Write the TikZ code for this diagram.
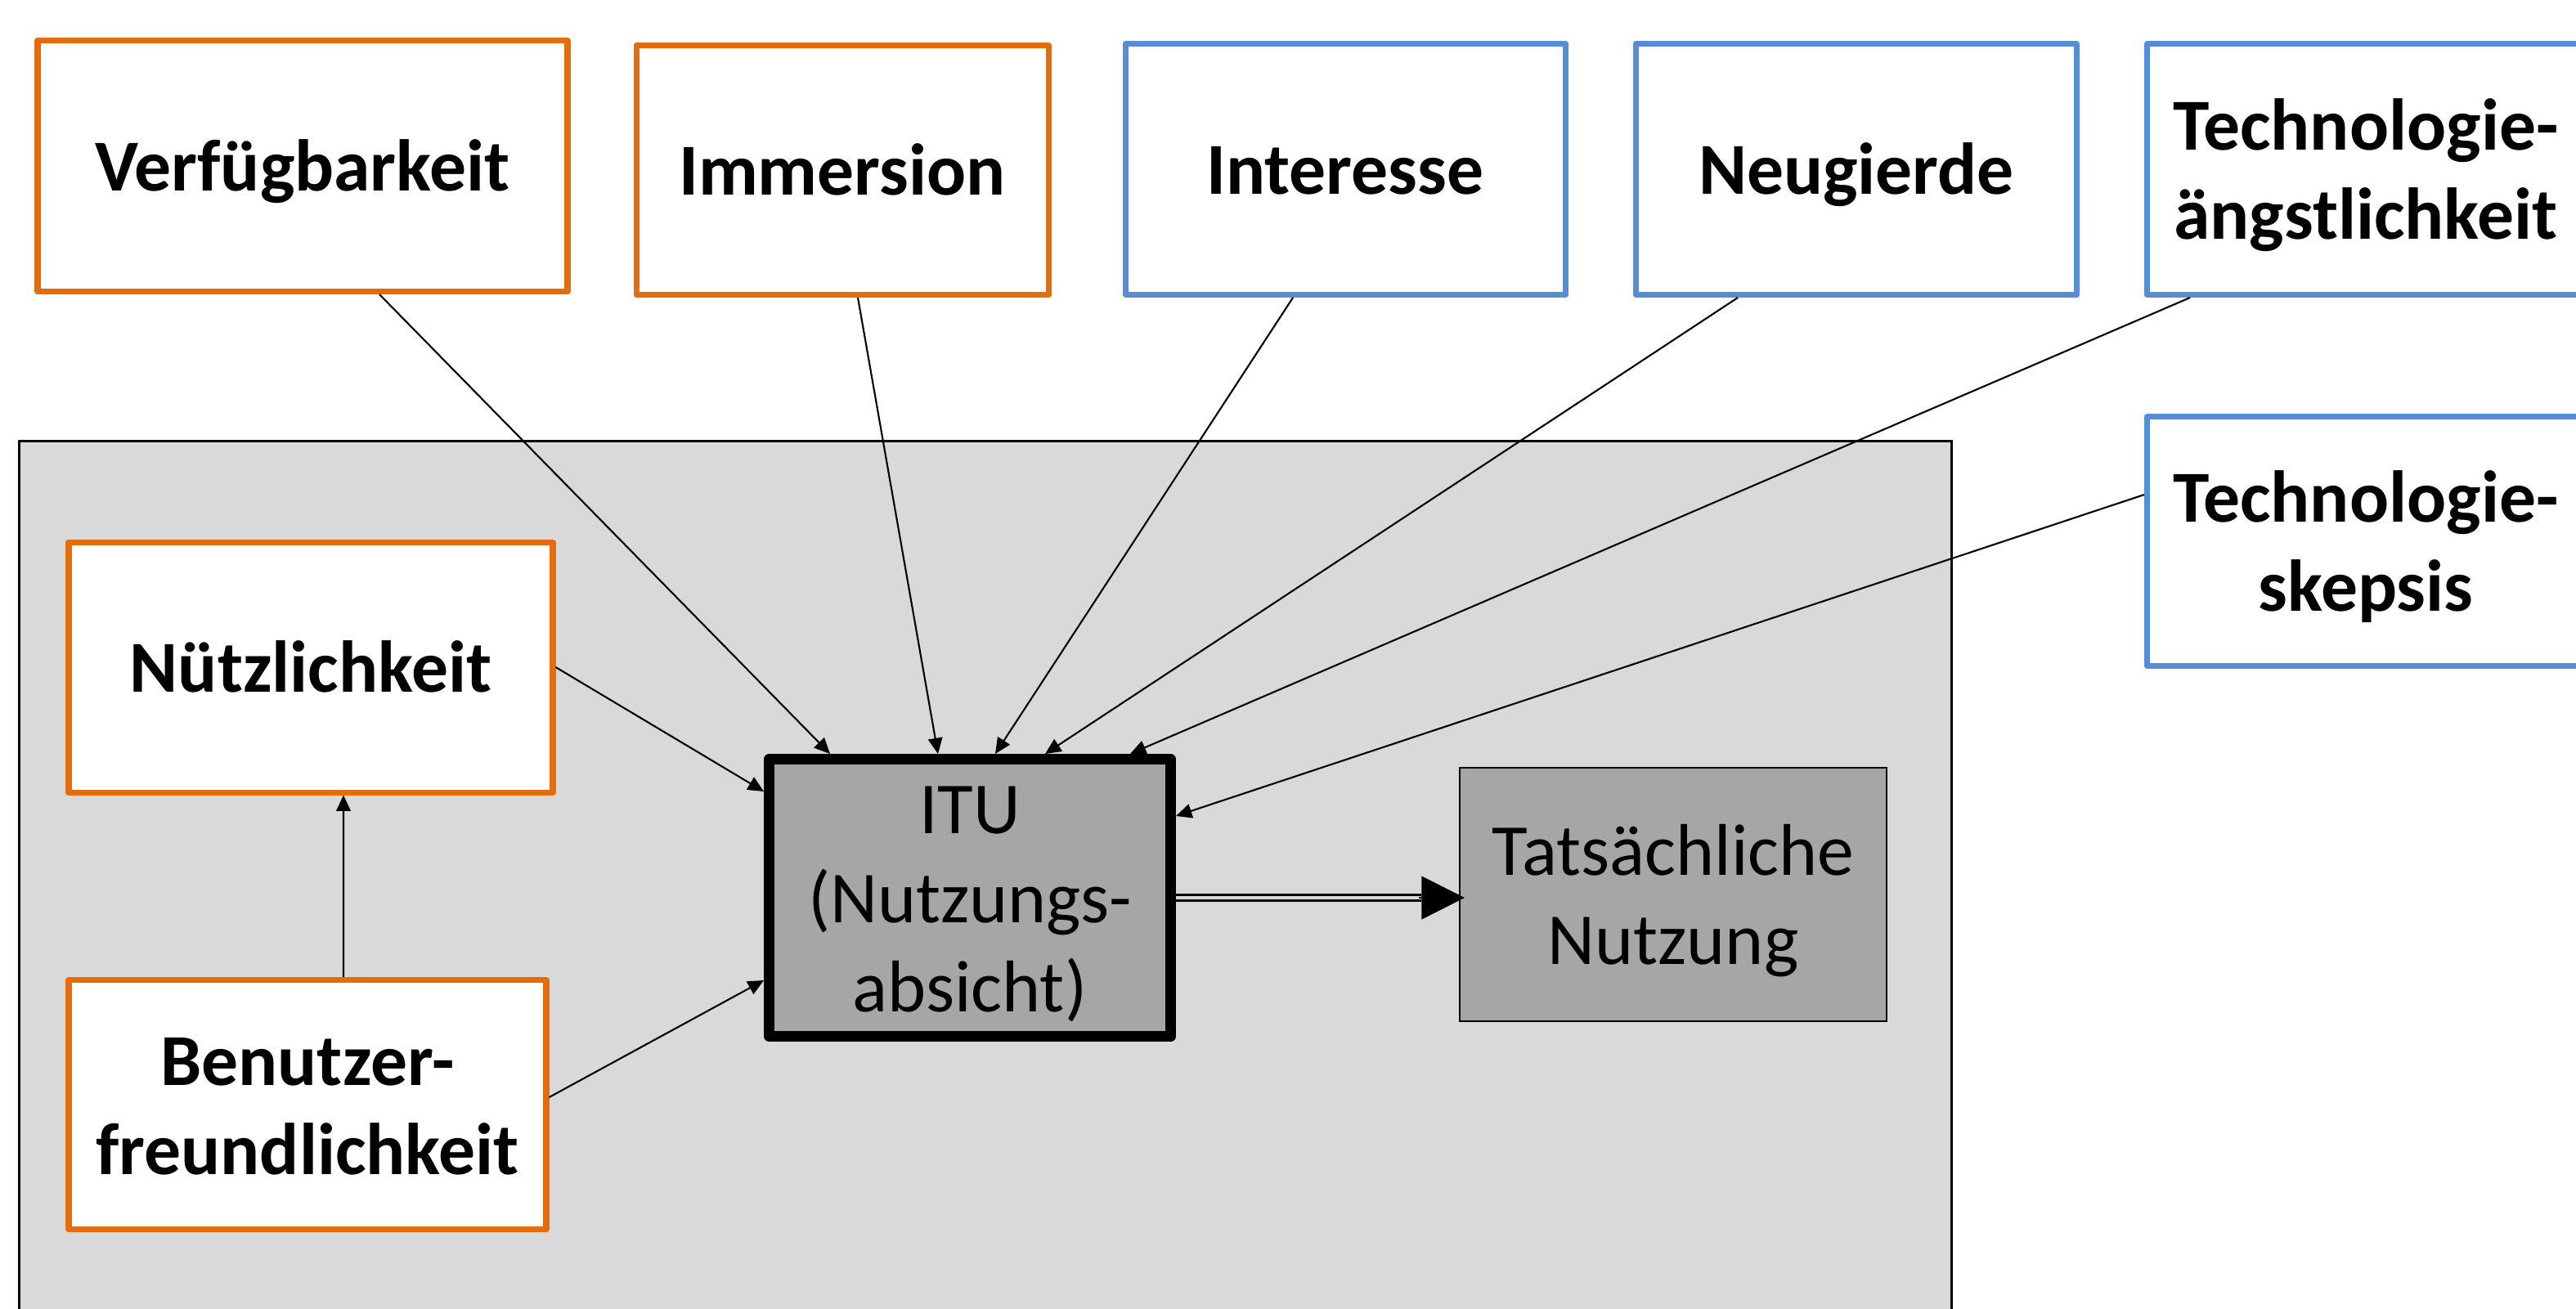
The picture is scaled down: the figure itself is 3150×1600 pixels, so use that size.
\documentclass[tikz,border=0pt]{standalone}
\usepackage{fontspec}
\setmainfont{Carlito}
\usetikzlibrary{arrows.meta}
\definecolor{accorange}{HTML}{E46C0A}
\definecolor{accblue}{HTML}{558ED5}
\definecolor{panelgray}{HTML}{D9D9D9}
\definecolor{coregray}{HTML}{A6A6A6}

\begin{document}
\begin{tikzpicture}[x=0.1mm,y=-0.1mm,
  boxtext/.style={align=center, inner sep=0pt, text depth=6.9pt},
  oneline/.style={text height=24.3pt},
  twolines/.style={text height=55.3pt},
  threelines/.style={text height=86.3pt},
  factor/.style={draw, fill=white, line width=2pt, line join=round, boxtext,
    font=\fontsize{25.5}{31}\selectfont\bfseries},
  orangebox/.style={factor, draw=accorange},
  bluebox/.style={factor, draw=accblue},
  corebox/.style={draw, fill=coregray, boxtext,
    font=\fontsize{25.5}{31}\selectfont},
  link/.style={line width=0.6pt, -{Triangle[length=5.5pt,width=5pt]}},
  ]
\useasboundingbox (0,0) rectangle (3150,1600);
\clip (0,0) rectangle (3150,1600);
\fill[white] (0,0) rectangle (3150,1600);

% TAM core panel
\node[draw, line width=0.85pt, fill=panelgray, minimum width=236.3mm,
  minimum height=110mm, anchor=north west] (panel) at (22,538) {};

% external factors (top row and right)
\node[orangebox, oneline, minimum width=64.8mm, minimum height=30.7mm] (verf) at (370,203) {Verfügbarkeit};
\node[orangebox, oneline, minimum width=50.4mm, minimum height=30.5mm] (imm) at (1030,208) {Immersion};
\node[bluebox, oneline, minimum width=53.8mm, minimum height=30.7mm] (inter) at (1645,207) {Interesse};
\node[bluebox, oneline, minimum width=53.9mm, minimum height=30.7mm] (neu) at (2270,207) {Neugierde};
\node[bluebox, twolines, minimum width=53.5mm, minimum height=30.7mm] (angst) at (2893,207) {Technologie-\\ängstlichkeit};
\node[bluebox, twolines, minimum width=53.5mm, minimum height=30.5mm] (skep) at (2893,662) {Technologie-\\skepsis};

% TAM constructs
\node[orangebox, oneline, minimum width=59.2mm, minimum height=30.6mm] (nutz) at (380,816) {Nützlichkeit};
\node[orangebox, twolines, minimum width=58.4mm, minimum height=30.5mm] (benu) at (376,1351) {Benutzer-\\freundlichkeit};
\node[corebox, threelines, line width=3.7pt, line join=round, minimum width=49.1mm, minimum height=33.9mm] (itu) at (1186,1098) {ITU\\(Nutzungs-\\absicht)};
\node[corebox, twolines, line width=0.6pt, minimum width=52.2mm, minimum height=31mm] (tn) at (2046,1094) {Tatsächliche\\Nutzung};

% influences on the intention to use
\draw[link] ([xshift=9.4mm]verf.south) -- ([xshift=-17.1mm]itu.north);
\draw[link] ([xshift=1.9mm]imm.south) -- ([xshift=-3.9mm]itu.north);
\draw[link] ([xshift=-6.4mm]inter.south) -- ([xshift=3.1mm]itu.north);
\draw[link] ([xshift=-14.5mm]neu.south) -- ([xshift=9.2mm]itu.north);
\draw[link] ([xshift=-21.5mm]angst.south) -- ([xshift=19.6mm]itu.north);
\draw[link] ([yshift=5.7mm]skep.west) -- ([yshift=10mm]itu.east);
\draw[link] (nutz.east) -- ([yshift=13mm]itu.west);
\draw[link] ([yshift=0.9mm]benu.east) -- ([yshift=-10.1mm]itu.west);
\draw[link] ([xshift=4.4mm]benu.north) -- ([xshift=4mm]nutz.south);

% intention leads to actual use
\draw[line width=0.85pt, double=panelgray, double distance=1.3pt, shorten >=13pt]
  (itu.east) -- (itu.east -| tn.west);
\draw[line width=0.6pt, -{Triangle[length=15pt,width=15pt]}]
  ([xshift=-14pt]itu.east -| tn.west) -- ([xshift=2pt]itu.east -| tn.west);
\end{tikzpicture}
\end{document}
